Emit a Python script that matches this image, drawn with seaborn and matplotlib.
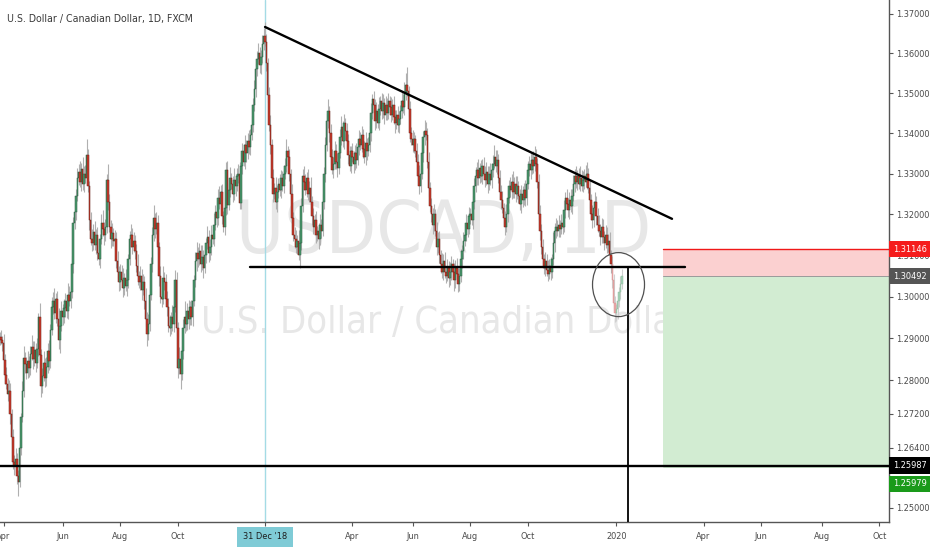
import numpy as np
import pandas as pd
import matplotlib
matplotlib.use("Agg")
import matplotlib.pyplot as plt
import matplotlib.transforms as mtransforms
from matplotlib.patches import Ellipse, Rectangle
from matplotlib import font_manager
import matplotlib.ticker as mticker
import seaborn as sns

# ---------------- data ----------------
start_date = "2018-03-28"
first_open = 1.2898

closes = [
    1.2902, 1.2895, 1.2889, 1.2848, 1.2812, 1.2790, 1.2768, 1.2775, 1.2720, 1.2665,
    1.2608, 1.2598, 1.2615, 1.2575, 1.2560, 1.2640, 1.2712, 1.2775, 1.2852, 1.2838,
    1.2818, 1.2845, 1.2830, 1.2862, 1.2880, 1.2850, 1.2872, 1.2840, 1.2875, 1.2950,
    1.2860, 1.2785, 1.2810, 1.2840, 1.2805, 1.2832, 1.2870, 1.2845, 1.2920, 1.2975,
    1.2990, 1.2960, 1.2995, 1.2945, 1.2895, 1.2930, 1.2965, 1.2950, 1.2972, 1.2990,
    1.2965, 1.3005, 1.2990, 1.3010, 1.3080, 1.3180, 1.3205, 1.3245, 1.3290, 1.3305,
    1.3280, 1.3312, 1.3275, 1.3300, 1.3290, 1.3345, 1.3270, 1.3185, 1.3140, 1.3130,
    1.3158, 1.3125, 1.3150, 1.3105, 1.3090, 1.3140, 1.3180, 1.3165, 1.3150, 1.3170,
    1.3285, 1.3230, 1.3170, 1.3140, 1.3155, 1.3135, 1.3140, 1.3085, 1.3060, 1.3035,
    1.3060, 1.3040, 1.3020, 1.3045, 1.3025, 1.3040, 1.3090, 1.3140, 1.3150, 1.3120,
    1.3135, 1.3110, 1.3075, 1.3050, 1.3035, 1.3050, 1.3015, 1.3035, 1.2990, 1.2945,
    1.2910, 1.2935, 1.3005, 1.3080, 1.3150, 1.3190, 1.3165, 1.3180, 1.3120, 1.3050,
    1.3000, 1.2995, 1.3045, 1.3035, 1.2995, 1.2975, 1.2930, 1.2925, 1.2950, 1.2935,
    1.2975, 1.3040, 1.2925, 1.2830, 1.2850, 1.2815, 1.2870, 1.2925, 1.2950, 1.2935,
    1.2965, 1.2945, 1.2975, 1.2950, 1.2990, 1.3040, 1.3085, 1.3105, 1.3090, 1.3110,
    1.3080, 1.3095, 1.3070, 1.3100, 1.3130, 1.3145, 1.3105, 1.3120, 1.3150, 1.3140,
    1.3175, 1.3205, 1.3190, 1.3240, 1.3225, 1.3255, 1.3195, 1.3170, 1.3215, 1.3310,
    1.3222, 1.3260, 1.3290, 1.3275, 1.3250, 1.3285, 1.3270, 1.3295, 1.3300, 1.3228,
    1.3320, 1.3355, 1.3330, 1.3370, 1.3350, 1.3380, 1.3365, 1.3395, 1.3420, 1.3470,
    1.3510, 1.3560, 1.3585, 1.3600, 1.3570, 1.3590, 1.3625, 1.3645, 1.3630, 1.3575,
    1.3495, 1.3420, 1.3370, 1.3290, 1.3250, 1.3265, 1.3230, 1.3255, 1.3275, 1.3260,
    1.3290, 1.3270, 1.3300, 1.3320, 1.3355, 1.3340, 1.3300, 1.3250, 1.3190, 1.3150,
    1.3140, 1.3120, 1.3135, 1.3100, 1.3130, 1.3220, 1.3295, 1.3280, 1.3260, 1.3290,
    1.3250, 1.3265, 1.3230, 1.3195, 1.3170, 1.3185, 1.3150, 1.3160, 1.3140, 1.3175,
    1.3160, 1.3230, 1.3300, 1.3370, 1.3430, 1.3455, 1.3400, 1.3340, 1.3310, 1.3325,
    1.3355, 1.3330, 1.3315, 1.3350, 1.3390, 1.3415, 1.3380, 1.3425, 1.3405, 1.3380,
    1.3345, 1.3320, 1.3355, 1.3340, 1.3325, 1.3350, 1.3335, 1.3365, 1.3385, 1.3370,
    1.3395, 1.3360, 1.3340, 1.3375, 1.3355, 1.3370, 1.3400, 1.3450, 1.3485, 1.3470,
    1.3430, 1.3455, 1.3425, 1.3460, 1.3480, 1.3455, 1.3475, 1.3445, 1.3470, 1.3450,
    1.3480, 1.3465, 1.3445, 1.3470, 1.3440, 1.3425, 1.3445, 1.3420, 1.3435, 1.3455,
    1.3480, 1.3465, 1.3500, 1.3520, 1.3505, 1.3460, 1.3400, 1.3385, 1.3370, 1.3385,
    1.3355, 1.3330, 1.3295, 1.3270, 1.3300, 1.3350, 1.3390, 1.3405, 1.3395, 1.3330,
    1.3265, 1.3220, 1.3200, 1.3175, 1.3200, 1.3160, 1.3120, 1.3140, 1.3100, 1.3080,
    1.3060, 1.3085, 1.3060, 1.3050, 1.3070, 1.3045, 1.3060, 1.3080, 1.3060, 1.3040,
    1.3070, 1.3055, 1.3030, 1.3050, 1.3090, 1.3110, 1.3135, 1.3150, 1.3180, 1.3165,
    1.3195, 1.3200, 1.3185, 1.3230, 1.3270, 1.3295, 1.3310, 1.3290, 1.3315, 1.3295,
    1.3320, 1.3300, 1.3285, 1.3305, 1.3275, 1.3300, 1.3285, 1.3310, 1.3325, 1.3340,
    1.3320, 1.3335, 1.3290, 1.3255, 1.3235, 1.3215, 1.3190, 1.3170, 1.3200, 1.3240,
    1.3270, 1.3260, 1.3280, 1.3255, 1.3275, 1.3250, 1.3270, 1.3245, 1.3225, 1.3250,
    1.3235, 1.3260, 1.3240, 1.3275, 1.3310, 1.3325, 1.3310, 1.3335, 1.3320, 1.3340,
    1.3325, 1.3280, 1.3200, 1.3160, 1.3120, 1.3090, 1.3070, 1.3085, 1.3065, 1.3055,
    1.3075, 1.3060, 1.3090, 1.3130, 1.3160, 1.3170, 1.3160, 1.3175, 1.3165, 1.3180,
    1.3170, 1.3210, 1.3240, 1.3225, 1.3210, 1.3235, 1.3220, 1.3245, 1.3275, 1.3295,
    1.3280, 1.3295, 1.3275, 1.3290, 1.3270, 1.3285, 1.3295, 1.3280, 1.3300, 1.3265,
    1.3235, 1.3200, 1.3185, 1.3215, 1.3230, 1.3195, 1.3175, 1.3160, 1.3145, 1.3170,
    1.3145, 1.3130, 1.3150, 1.3125, 1.3135, 1.3100, 1.3080, 1.3040, 1.2985, 1.2960,
    1.2970, 1.2990, 1.3010, 1.3030, 1.3050,
]

upper_wick_pips = [
    12, 18, 10, 22, 15, 20, 14, 25, 18, 12,
    20, 16, 24, 12, 14, 18, 10, 22, 30, 15,
    18, 25, 12, 20, 28, 14, 22, 16, 26, 10,
    35, 14, 20, 30, 12, 22, 18, 26, 15, 24,
    20, 32, 14, 18, 28, 12, 25, 16, 22, 18,
    15, 28, 20, 12, 18, 14, 22, 16, 24, 20,
    26, 14, 30, 18, 22, 41, 16, 12, 20, 24,
    18, 26, 14, 20, 28, 12, 22, 30, 16, 18,
    14, 38, 20, 16, 24, 12, 22, 18, 26, 14,
    20, 16, 28, 12, 22, 18, 14, 20, 26, 16,
    22, 14, 18, 28, 12, 24, 16, 20, 14, 30,
    18, 22, 12, 16, 20, 32, 14, 26, 18, 12,
    24, 16, 28, 14, 20, 18, 22, 26, 12, 30,
    16, 24, 20, 14, 28, 18, 12, 22, 40, 16,
    20, 26, 14, 18, 24, 12, 22, 28, 16, 20,
    14, 30, 18, 22, 12, 26, 16, 20, 24, 14,
    28, 18, 12, 22, 30, 16, 20, 14, 24, 18,
    22, 16, 26, 12, 20, 28, 14, 18, 24, 30,
    16, 22, 18, 26, 14, 20, 28, 16, 22, 18,
    24, 14, 20, 26, 16, 18, 22, 20, 35, 18,
    14, 20, 26, 16, 22, 12, 28, 18, 14, 24,
    20, 16, 22, 18, 30, 14, 20, 12, 24, 16,
    18, 22, 14, 26, 12, 20, 16, 24, 18, 14,
    22, 18, 28, 14, 20, 16, 24, 12, 18, 26,
    14, 20, 16, 22, 18, 30, 14, 24, 20, 16,
    26, 18, 22, 14, 20, 28, 16, 24, 12, 20,
    18, 24, 14, 22, 16, 20, 26, 12, 22, 18,
    24, 16, 20, 28, 14, 22, 18, 26, 12, 20,
    16, 22, 18, 30, 14, 20, 24, 12, 22, 18,
    20, 14, 26, 16, 22, 18, 12, 24, 20, 16,
    22, 18, 28, 30, 45, 14, 20, 16, 24, 18,
    12, 22, 18, 26, 14, 20, 16, 28, 22, 18,
    24, 14, 20, 16, 26, 12, 22, 18, 20, 14,
    26, 18, 22, 14, 20, 16, 24, 18, 12, 22,
    18, 24, 14, 20, 26, 16, 22, 12, 20, 18,
    24, 16, 28, 14, 20, 22, 18, 26, 12, 20,
    16, 22, 18, 24, 14, 20, 26, 16, 22, 30,
    18, 24, 14, 20, 16, 22, 12, 18, 26, 20,
    14, 22, 18, 26, 16, 20, 24, 12, 18, 22,
    20, 16, 24, 14, 22, 18, 26, 16, 20, 28,
    22, 14, 18, 24, 16, 20, 12, 22, 18, 24,
    16, 20, 14, 26, 18, 22, 16, 24, 12, 20,
    18, 24, 16, 22, 14, 20, 26, 18, 22, 16,
    24, 14, 20, 28, 18, 22, 16, 26, 30, 14,
    20, 16, 22, 18, 26, 14, 20, 24, 16, 22,
    18, 14, 24, 20, 16, 22, 12, 18, 14, 16,
    12, 18, 14, 20, 16,
]

lower_wick_pips = [
    14, 10, 20, 16, 22, 12, 18, 14, 24, 16,
    18, 22, 14, 20, 33, 12, 16, 10, 14, 20,
    16, 12, 22, 18, 14, 24, 16, 20, 12, 18,
    14, 26, 16, 12, 22, 18, 14, 20, 16, 12,
    18, 14, 24, 16, 20, 30, 12, 18, 14, 22,
    16, 20, 12, 18, 14, 22, 16, 20, 12, 18,
    14, 22, 16, 20, 12, 18, 14, 24, 16, 20,
    18, 12, 22, 16, 14, 20, 12, 18, 24, 14,
    16, 20, 14, 22, 18, 12, 20, 16, 14, 22,
    18, 14, 20, 16, 12, 24, 18, 14, 20, 16,
    12, 20, 16, 22, 14, 18, 24, 12, 20, 16,
    28, 14, 18, 12, 20, 16, 22, 14, 18, 24,
    16, 20, 14, 18, 12, 22, 16, 20, 14, 18,
    20, 12, 18, 24, 16, 35, 14, 20, 12, 18,
    16, 22, 14, 18, 20, 12, 16, 22, 18, 14,
    20, 16, 24, 12, 18, 14, 22, 16, 20, 12,
    18, 14, 20, 16, 12, 24, 18, 14, 20, 16,
    22, 12, 18, 14, 20, 16, 24, 12, 18, 14,
    16, 20, 12, 18, 22, 14, 16, 20, 12, 18,
    14, 20, 16, 12, 18, 22, 14, 16, 12, 20,
    18, 14, 22, 16, 20, 12, 18, 24, 14, 16,
    20, 12, 18, 14, 16, 22, 18, 14, 20, 16,
    22, 14, 18, 12, 30, 16, 14, 20, 12, 18,
    16, 20, 14, 22, 18, 12, 20, 16, 24, 14,
    18, 12, 16, 20, 14, 18, 22, 16, 12, 20,
    14, 18, 22, 16, 12, 20, 14, 18, 22, 16,
    20, 14, 18, 12, 24, 16, 20, 14, 18, 12,
    16, 22, 14, 18, 20, 12, 16, 20, 14, 18,
    22, 16, 12, 18, 14, 20, 16, 22, 12, 18,
    14, 20, 16, 12, 18, 24, 14, 16, 20, 12,
    18, 14, 20, 16, 12, 18, 22, 14, 16, 20,
    14, 18, 12, 20, 16, 14, 22, 18, 12, 16,
    20, 14, 18, 22, 16, 12, 20, 14, 18, 24,
    16, 20, 14, 18, 12, 22, 16, 20, 14, 26,
    18, 12, 20, 16, 14, 22, 18, 12, 16, 20,
    14, 18, 12, 20, 16, 14, 22, 18, 12, 16,
    20, 14, 18, 12, 22, 16, 14, 20, 18, 12,
    16, 20, 14, 18, 22, 12, 16, 20, 14, 18,
    12, 18, 22, 14, 16, 20, 12, 18, 14, 22,
    16, 12, 20, 18, 14, 16, 22, 12, 18, 14,
    20, 16, 14, 22, 18, 12, 16, 20, 14, 18,
    12, 20, 16, 14, 22, 18, 12, 16, 20, 14,
    18, 14, 20, 12, 16, 22, 14, 18, 12, 20,
    16, 20, 14, 18, 12, 16, 22, 14, 18, 12,
    20, 14, 18, 16, 12, 22, 18, 14, 20, 16,
    14, 18, 12, 20, 16, 14, 22, 18, 14, 20,
    18, 25, 14, 16, 12,
]

faded_from = 457   # last candles drawn faded (inside the circle)

tick_dates = ["2018-04-02", "2018-06-01", "2018-08-01", "2018-10-01", "2018-12-31",
              "2019-04-01", "2019-06-03", "2019-08-01", "2019-10-01", "2020-01-01",
              "2020-04-01", "2020-06-01", "2020-08-03", "2020-10-01"]
tick_labels = ["Apr", "Jun", "Aug", "Oct", "31 Dec '18", "Apr", "Jun", "Aug", "Oct",
               "2020", "Apr", "Jun", "Aug", "Oct"]
crosshair_date = "2018-12-31"

y_ticks = [1.25, 1.264, 1.272, 1.28, 1.29, 1.30, 1.31, 1.32, 1.33, 1.34, 1.35, 1.36, 1.37]
y_tick_labels = ["1.25000", "1.26400", "1.27200", "1.28000", "1.29000", "1.30000", "1.31000",
                 "1.32000", "1.33000", "1.34000", "1.35000", "1.36000", "1.37000"]

trend_x = [198, 501.5]
trend_y = [1.3667, 1.3189]
support_x = [186.8, 511.2]
support_y = [1.3072, 1.3072]
base_line_price = 1.25987
stop_price = 1.31146
entry_price = 1.30492
target_price = 1.25979
position_start = 494.8
vline_x = 468.7
circle_center = (461.6, 1.3029)

title_text = "U.S. Dollar / Canadian Dollar, 1D, FXCM"
watermark_1 = "USDCAD, 1D"
watermark_2 = "U.S. Dollar / Canadian Dollar"

# ---------------- style ----------------
sns.set_theme(style="white")

# prefer a narrow sans if one is installed
family, stretch = "Liberation Sans", "normal"
narrow = [f for f in font_manager.fontManager.ttflist
          if ("Narrow" in f.name or "Condensed" in f.name or
              str(f.stretch) in ("condensed", "semi-condensed", "extra-condensed", "ultra-condensed"))
          and f.style == "normal"]
pref = [f for f in narrow if "Liberation" in f.name] or [f for f in narrow if "DejaVu Sans" == f.name] or narrow
if pref:
    family, stretch = pref[0].name, pref[0].stretch
plt.rcParams["font.family"] = [family, "DejaVu Sans"]
plt.rcParams["font.stretch"] = stretch

W, H = 932, 550
fig = plt.figure(figsize=(W / 100, H / 100), dpi=100)
fig.patch.set_facecolor("white")
ax = fig.add_axes([0, 28 / H, 889 / W, 522 / H])
ax.set_facecolor("white")
renderer = fig.canvas.get_renderer()


def fit_size(text, target_px, base=10.0):
    t = fig.text(0, 0, text, fontsize=base)
    w = t.get_window_extent(renderer).width
    t.remove()
    return base * target_px / w


n = min(len(closes), len(upper_wick_pips), len(lower_wick_pips))
cl = np.array(closes[:n])
op = np.concatenate([[first_open], cl[:-1]])
hi = np.maximum(op, cl) + np.array(upper_wick_pips[:n]) * 1e-4
lo = np.minimum(op, cl) - np.array(lower_wick_pips[:n]) * 1e-4
xs = np.arange(n)
up = cl >= op
solid = xs < faded_from

dates = pd.bdate_range(start_date, periods=700)
tick_pos = [dates.get_loc(pd.Timestamp(d)) for d in tick_dates]
cross_pos = dates.get_loc(pd.Timestamp(crosshair_date))

ax.set_yscale("log")
ax.set_xlim(0.37, 663.3)
ax.set_ylim(1.24675, 1.37356)

label_fs = min(8.0, fit_size("1.37000", 34))
xlabel_fs = label_fs
title_fs = min(8.3, fit_size(title_text, 186))
wm1_fs = fit_size(watermark_1, 415)
wm2_fs = fit_size(watermark_2, 488)

# watermark
ax.text(0.4994, 0.5153, watermark_1, transform=ax.transAxes, ha="center", va="baseline",
        fontsize=wm1_fs, color="#e7e7e7", zorder=0.5)
ax.text(0.4994, 0.362, watermark_2, transform=ax.transAxes, ha="center", va="baseline",
        fontsize=wm2_fs, color="#e7e7e7", zorder=0.5)

# position tool
ax.add_patch(Rectangle((position_start, entry_price), 400, stop_price - entry_price,
                       facecolor="#fbd0d0", edgecolor="none", zorder=1))
ax.add_patch(Rectangle((position_start, target_price), 400, entry_price - target_price,
                       facecolor="#d2ecd2", edgecolor="none", zorder=1))
ax.plot([position_start, 700], [stop_price, stop_price], color="#f01818", lw=1.0, zorder=1.2)
ax.plot([position_start, 700], [entry_price, entry_price], color="#9a9a9a", lw=0.7, zorder=1.2)
ax.plot([position_start, 700], [target_price, target_price], color="#22a022", lw=1.0, zorder=1.2)

# crosshair
ax.axvline(cross_pos, color="#a4dbe5", lw=1.0, zorder=1.5)


# candles
def draw(mask, up_c, dn_c, up_e, dn_e, wick, z, lw):
    ax.vlines(xs[mask], lo[mask], hi[mask], color=wick, lw=0.8, zorder=z)
    b = np.minimum(op, cl)[mask]
    h = np.maximum(np.abs(cl - op)[mask], 0.00008)
    cols = np.where(up[mask], up_c, dn_c)
    edges = np.where(up[mask], up_e, dn_e)
    ax.bar(xs[mask], h, bottom=b, width=1.15, color=cols, edgecolor=edges,
           linewidth=lw, zorder=z + 0.1)


draw(solid, "#4a9a6e", "#cc3b2c", "#2a5a3e", "#6a2118", "#b0b0b0", 2, 0.35)
draw(~solid, "#a3d3b5", "#eba8a8", "#8fb89e", "#d49090", "#d0d0d0", 2, 0.3)

# drawings
sns.lineplot(x=trend_x, y=trend_y, ax=ax, color="black", lw=1.7, zorder=4)
sns.lineplot(x=support_x, y=support_y, ax=ax, color="black", lw=1.7, zorder=4)
ax.axhline(base_line_price, color="black", lw=1.7, zorder=4)
ax.plot([vline_x, vline_x], [support_y[0], 1.2], color="black", lw=1.3, zorder=4)
trans = fig.dpi_scale_trans + mtransforms.ScaledTranslation(circle_center[0], circle_center[1], ax.transData)
ax.add_patch(Ellipse((0, 0), 0.52, 0.64, transform=trans, facecolor="none",
                     edgecolor="#505050", lw=0.9, zorder=4))

# axes styling
for s in ["top", "left"]:
    ax.spines[s].set_visible(False)
for s in ["right", "bottom"]:
    ax.spines[s].set_color("#555555")
    ax.spines[s].set_linewidth(1.0)

ax.yaxis.tick_right()
ax.yaxis.set_major_locator(mticker.FixedLocator(y_ticks))
ax.yaxis.set_major_formatter(mticker.FixedFormatter(y_tick_labels))
ax.yaxis.set_minor_locator(mticker.NullLocator())
ax.yaxis.set_minor_formatter(mticker.NullFormatter())
ax.tick_params(axis="y", which="major", right=True, left=False, length=3, width=0.8,
               color="#555555", pad=2, labelsize=label_fs, labelcolor="#4a4a4a")
ax.set_xticks(tick_pos)
ax.set_xticklabels(tick_labels)
ax.tick_params(axis="x", bottom=True, length=3, width=0.8, color="#555555", pad=4.5,
               labelsize=xlabel_fs, labelcolor="#4a4a4a")
for lab, txt in zip(ax.get_xticklabels(), tick_labels):
    if txt.startswith("31"):
        lab.set_color("#1c1c1c")
        lab.set_bbox(dict(boxstyle="square,pad=0.6", facecolor="#7fcbd6", edgecolor="none"))
ax.set_xlabel("")
ax.set_ylabel("")
ax.grid(False)

# right-side price labels
ytr = ax.get_yaxis_transform()


def price_box(val, text, fc, dy=0):
    ax.annotate(text, xy=(1.0, val), xycoords=ytr, xytext=(2.6, dy), textcoords="offset points",
                ha="left", va="center", fontsize=label_fs, color="white", annotation_clip=False,
                bbox=dict(boxstyle="square,pad=0.4", facecolor=fc, edgecolor="none"), zorder=6)


price_box(stop_price, "1.31146", "#f51c1c")
price_box(entry_price, "1.30492", "#555555")
price_box(base_line_price, "1.25987", "#000000")
price_box(target_price, "1.25979", "#1a9a1a", dy=-13)

fig.text(7 / W, 1 - 21.7 / H, title_text, ha="left", va="baseline", fontsize=title_fs, color="#3a3a3a")

fig.savefig("out.png", dpi=100, facecolor="white")
